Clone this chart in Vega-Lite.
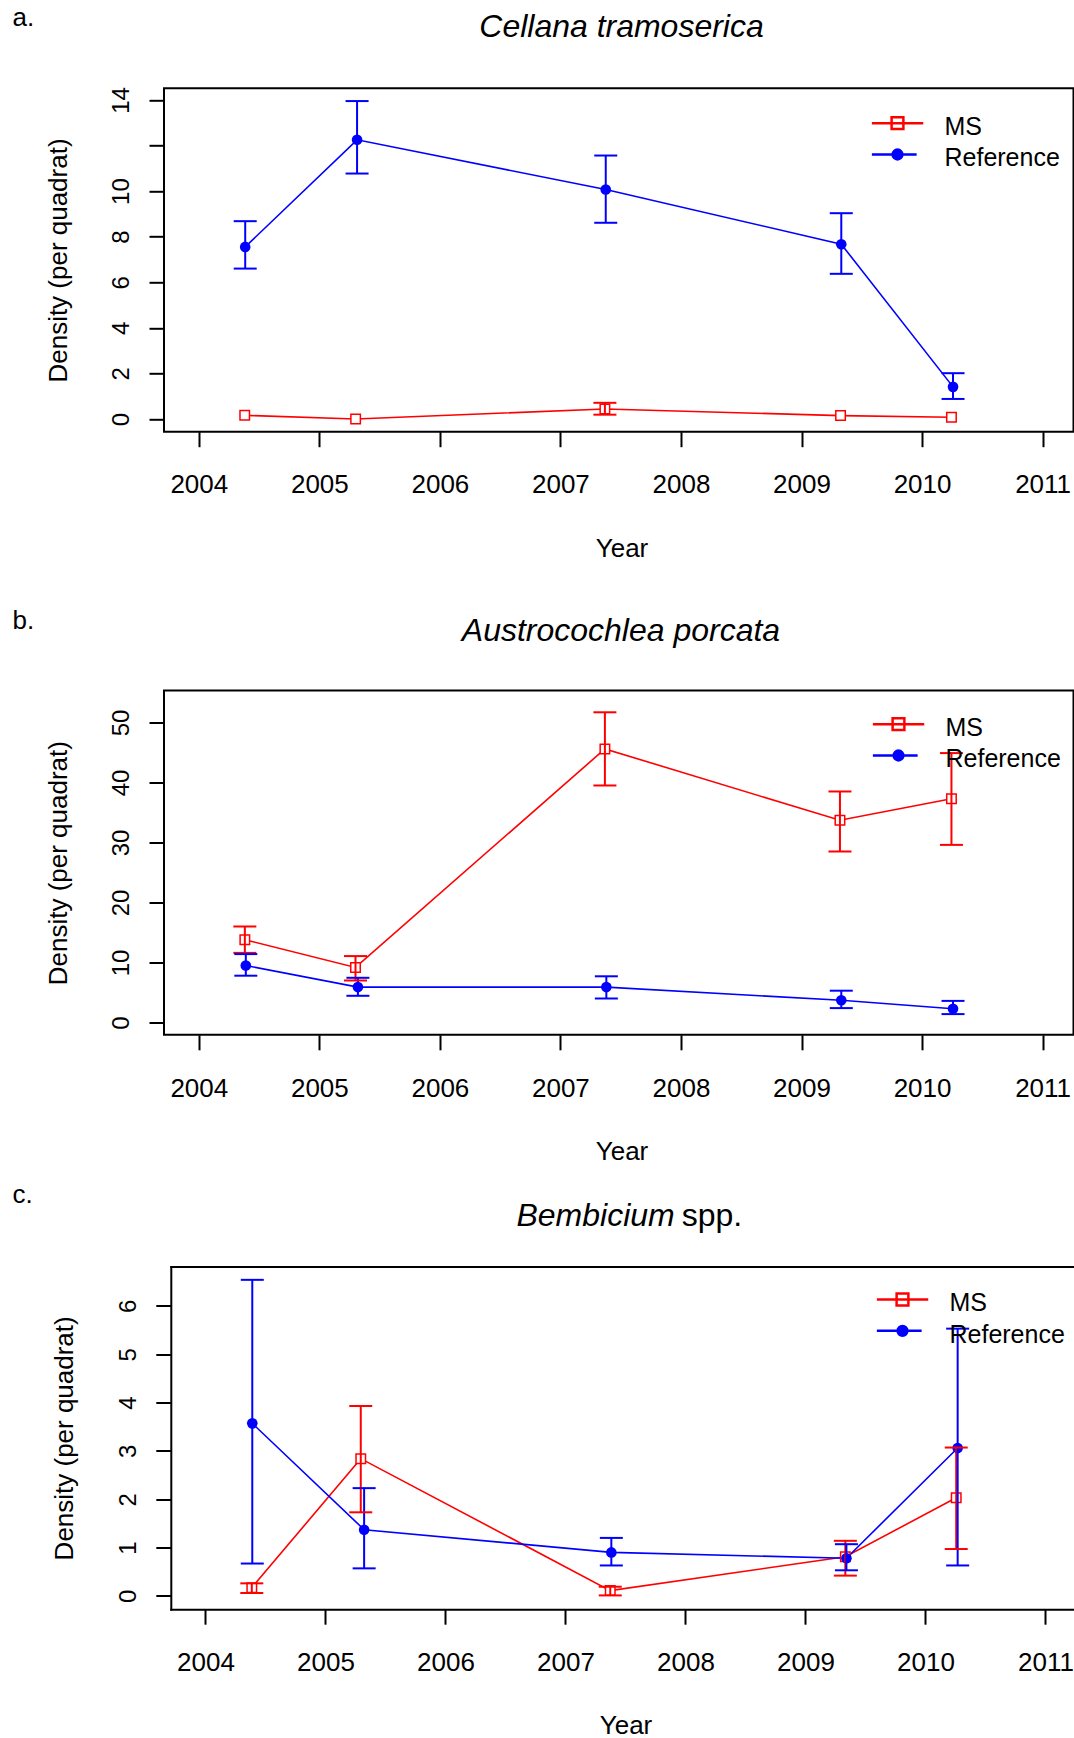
{
  "$schema": "https://vega.github.io/schema/vega-lite/v6.json",
  "background": "white",
  "padding": {"left": 11, "top": 4.3, "right": 0, "bottom": 0},
  "config": {
    "font": "Liberation Sans",
    "view": {"stroke": "black", "strokeWidth": 2},
    "axis": {"grid": false, "labelColor": "black", "titleColor": "black", "tickColor": "black", "domainColor": "black", "tickWidth": 2, "domainWidth": 2, "domainCap": "square", "labelFlush": false, "labelOverlap": false, "labelBound": false, "titleFontWeight": "normal", "labelFont": "Liberation Sans", "titleFont": "Liberation Sans"},
    "title": {"fontWeight": "normal", "color": "black"},
    "legend": {"labelColor": "black", "labelFont": "Liberation Sans"}
  },
  "datasets": {
    "d": [
      {"p": "a", "s": "MS", "year": 2004.381, "y": 0.16},
      {"p": "a", "s": "MS", "year": 2005.301, "y": 0.0},
      {"p": "a", "s": "MS", "year": 2007.369, "y": 0.44, "lo": 0.19, "hi": 0.71},
      {"p": "a", "s": "MS", "year": 2009.324, "y": 0.15},
      {"p": "a", "s": "MS", "year": 2010.244, "y": 0.08},
      {"p": "a", "s": "Reference", "year": 2004.385, "y": 7.55, "lo": 6.6, "hi": 8.68},
      {"p": "a", "s": "Reference", "year": 2005.313, "y": 12.25, "lo": 10.77, "hi": 13.95},
      {"p": "a", "s": "Reference", "year": 2007.376, "y": 10.07, "lo": 8.61, "hi": 11.56},
      {"p": "a", "s": "Reference", "year": 2009.33, "y": 7.67, "lo": 6.37, "hi": 9.03},
      {"p": "a", "s": "Reference", "year": 2010.257, "y": 1.41, "lo": 0.88, "hi": 2.01},
      {"p": "b", "s": "MS", "year": 2004.382, "y": 13.8, "lo": 11.6, "hi": 16.0},
      {"p": "b", "s": "MS", "year": 2005.3, "y": 9.17, "lo": 7.0, "hi": 11.07},
      {"p": "b", "s": "MS", "year": 2007.369, "y": 45.6, "lo": 39.5, "hi": 51.7},
      {"p": "b", "s": "MS", "year": 2009.319, "y": 33.7, "lo": 28.5, "hi": 38.5},
      {"p": "b", "s": "MS", "year": 2010.244, "y": 37.3, "lo": 29.6, "hi": 44.9},
      {"p": "b", "s": "Reference", "year": 2004.39, "y": 9.5, "lo": 7.8, "hi": 11.4},
      {"p": "b", "s": "Reference", "year": 2005.32, "y": 5.9, "lo": 4.45, "hi": 7.45},
      {"p": "b", "s": "Reference", "year": 2007.381, "y": 5.9, "lo": 4.0, "hi": 7.7},
      {"p": "b", "s": "Reference", "year": 2009.33, "y": 3.7, "lo": 2.4, "hi": 5.3},
      {"p": "b", "s": "Reference", "year": 2010.257, "y": 2.3, "lo": 1.4, "hi": 3.6},
      {"p": "c", "s": "MS", "year": 2004.386, "y": 0.17, "lo": 0.06, "hi": 0.26},
      {"p": "c", "s": "MS", "year": 2005.294, "y": 2.84, "lo": 1.73, "hi": 3.93},
      {"p": "c", "s": "MS", "year": 2007.373, "y": 0.11, "lo": 0.01, "hi": 0.19},
      {"p": "c", "s": "MS", "year": 2009.332, "y": 0.81, "lo": 0.42, "hi": 1.14},
      {"p": "c", "s": "MS", "year": 2010.256, "y": 2.03, "lo": 0.97, "hi": 3.07},
      {"p": "c", "s": "Reference", "year": 2004.39, "y": 3.57, "lo": 0.67, "hi": 6.54},
      {"p": "c", "s": "Reference", "year": 2005.322, "y": 1.37, "lo": 0.57, "hi": 2.23},
      {"p": "c", "s": "Reference", "year": 2007.382, "y": 0.9, "lo": 0.63, "hi": 1.2},
      {"p": "c", "s": "Reference", "year": 2009.341, "y": 0.78, "lo": 0.53, "hi": 1.07},
      {"p": "c", "s": "Reference", "year": 2010.268, "y": 3.06, "lo": 0.63, "hi": 5.53}
    ]
  },
  "resolve": {"scale": {"color": "independent"}},
  "spacing": 45.2,
  "vconcat": [
    {
      "width": 909.5, "height": 343.4,
      "title": {"text": "a.", "anchor": "start", "frame": "group", "orient": "top", "offset": 0, "dx": -151.5, "dy": 41.6, "baseline": "alphabetic", "fontSize": 26, "fontWeight": "normal", "color": "black"},
      "data": {"name": "d"},
      "transform": [{"filter": "datum.p == 'a'"}],
      "resolve": {"axis": {"x": "independent", "y": "independent"}},
      "layer": [
        {
          "mark": {"type": "line", "strokeWidth": 1.6},
          "encoding": {
            "x": {"field": "year", "type": "quantitative", "scale": {"domain": [2003.7113, 2011.2565], "nice": false, "zero": false},
              "axis": {"orient": "bottom", "values": [2004, 2005, 2006, 2007, 2008, 2009, 2010, 2011], "format": "d", "domain": false, "tickSize": 15, "labelFontSize": 26, "labelBaseline": "alphabetic", "labelAlign": "center", "labelPadding": 46.3, "title": "Year", "titleFontSize": 26, "titleBaseline": "alphabetic", "titleAlign": "center", "titleX": 457.5, "titleY": 124.5}},
            "y": {"field": "y", "type": "quantitative", "scale": {"domain": [-0.557, 14.51], "nice": false, "zero": false},
              "axis": {"orient": "left", "values": [0, 2, 4, 6, 8, 10, 12, 14], "format": "d", "labelExpr": "datum.value == 12 ? '' : datum.label", "domain": false, "tickSize": 15, "labelFontSize": 24, "labelAngle": 270, "labelAlign": "center", "labelBaseline": "alphabetic", "labelPadding": 20.5, "title": "Density (per quadrat)", "titleFontSize": 26, "titleAngle": 270, "titleAlign": "center", "titleBaseline": "alphabetic", "titleX": -98, "titleY": 171.7}},
            "color": {"field": "s", "type": "nominal", "scale": {"domain": ["MS", "Reference"], "range": ["#ff0000", "#0000ff"]},
              "legend": {"orient": "none", "legendX": 707.5, "legendY": 22.4, "title": null, "padding": 0, "direction": "vertical", "rowPadding": 1.3, "clipHeight": 25, "symbolSize": 2401, "symbolStrokeWidth": 2.5, "labelFontSize": 25, "labelOffset": 21, "labelBaseline": "alphabetic",
                "encode": {
                  "symbols": {"update": {
                    "shape": {"signal": "datum.value === 'MS' ? 'M-1,0H1M-0.24,-0.24H0.24M0.24,-0.24V0.24M0.24,0.24H-0.24M-0.24,0.24V-0.24' : 'M-1,0H-0.29M0.24,0H0.73M0.2,0A0.2,0.2,0,1,1,-0.2,0A0.2,0.2,0,1,1,0.2,0Z'"},
                    "strokeWidth": {"value": 2.5},
                    "strokeCap": {"value": "square"},
                    "opacity": {"value": 1}
                  }},
                  "labels": {"update": {"dy": {"value": 11.8}}}
                }}}
          }
        },
        {
          "transform": [{"filter": "datum.s == 'MS'"}],
          "mark": {"type": "point", "shape": "square", "filled": false, "fill": "white", "size": 90, "strokeWidth": 1.5, "opacity": 1},
          "encoding": {
            "x": {"field": "year", "type": "quantitative", "scale": {"domain": [2003.7113, 2011.2565], "nice": false, "zero": false},
              "axis": {"orient": "top", "domain": false, "ticks": false, "labels": false, "title": "Cellana tramoserica", "titleFontSize": 32, "titleFontStyle": "italic", "titleBaseline": "alphabetic", "titleAlign": "center", "titleX": 457, "titleY": -51.6, "minExtent": 0, "maxExtent": 0}},
            "y": {"field": "y", "type": "quantitative", "scale": {"domain": [-0.557, 14.51], "nice": false, "zero": false}, "axis": null},
            "color": {"field": "s", "type": "nominal", "scale": {"domain": ["MS", "Reference"], "range": ["#ff0000", "#0000ff"]}}
          }
        },
        {
          "transform": [{"filter": "datum.s == 'Reference'"}],
          "mark": {"type": "point", "shape": "circle", "filled": true, "size": 113, "opacity": 1},
          "encoding": {
            "x": {"field": "year", "type": "quantitative", "scale": {"domain": [2003.7113, 2011.2565], "nice": false, "zero": false}, "axis": null},
            "y": {"field": "y", "type": "quantitative", "scale": {"domain": [-0.557, 14.51], "nice": false, "zero": false}, "axis": null},
            "color": {"field": "s", "type": "nominal", "scale": {"domain": ["MS", "Reference"], "range": ["#ff0000", "#0000ff"]}}
          }
        },
        {
          "transform": [{"filter": "isValid(datum.lo)"}],
          "mark": {"type": "rule", "strokeWidth": 2},
          "encoding": {
            "x": {"field": "year", "type": "quantitative", "scale": {"domain": [2003.7113, 2011.2565], "nice": false, "zero": false}, "axis": null},
            "y": {"field": "lo", "type": "quantitative", "scale": {"domain": [-0.557, 14.51], "nice": false, "zero": false}, "axis": null},
            "y2": {"field": "hi"},
            "color": {"field": "s", "type": "nominal", "scale": {"domain": ["MS", "Reference"], "range": ["#ff0000", "#0000ff"]}}
          }
        },
        {
          "transform": [{"filter": "isValid(datum.lo)"}],
          "mark": {"type": "tick", "orient": "horizontal", "size": 23, "thickness": 2, "opacity": 1},
          "encoding": {
            "x": {"field": "year", "type": "quantitative", "scale": {"domain": [2003.7113, 2011.2565], "nice": false, "zero": false}, "axis": null},
            "y": {"field": "lo", "type": "quantitative", "scale": {"domain": [-0.557, 14.51], "nice": false, "zero": false}, "axis": null},
            "color": {"field": "s", "type": "nominal", "scale": {"domain": ["MS", "Reference"], "range": ["#ff0000", "#0000ff"]}}
          }
        },
        {
          "transform": [{"filter": "isValid(datum.hi)"}],
          "mark": {"type": "tick", "orient": "horizontal", "size": 23, "thickness": 2, "opacity": 1},
          "encoding": {
            "x": {"field": "year", "type": "quantitative", "scale": {"domain": [2003.7113, 2011.2565], "nice": false, "zero": false}, "axis": null},
            "y": {"field": "hi", "type": "quantitative", "scale": {"domain": [-0.557, 14.51], "nice": false, "zero": false}, "axis": null},
            "color": {"field": "s", "type": "nominal", "scale": {"domain": ["MS", "Reference"], "range": ["#ff0000", "#0000ff"]}}
          }
        }
      ]
    },
    {
      "resolve": {"scale": {"color": "independent"}},
      "spacing": 17,
      "vconcat": [
        {
          "width": 909.5, "height": 344.3,
          "title": {"text": "b.", "anchor": "start", "frame": "group", "orient": "top", "offset": 0, "dx": -151.5, "dy": 41.3, "baseline": "alphabetic", "fontSize": 26, "fontWeight": "normal", "color": "black"},
          "data": {"name": "d"},
          "transform": [{"filter": "datum.p == 'b'"}],
          "resolve": {"axis": {"x": "independent", "y": "independent"}},
          "layer": [
            {
              "mark": {"type": "line", "strokeWidth": 1.6},
              "encoding": {
                "x": {"field": "year", "type": "quantitative", "scale": {"domain": [2003.7113, 2011.2565], "nice": false, "zero": false},
                  "axis": {"orient": "bottom", "values": [2004, 2005, 2006, 2007, 2008, 2009, 2010, 2011], "format": "d", "domain": false, "tickSize": 15, "labelFontSize": 26, "labelBaseline": "alphabetic", "labelAlign": "center", "labelPadding": 46.3, "title": "Year", "titleFontSize": 26, "titleBaseline": "alphabetic", "titleAlign": "center", "titleX": 457.5, "titleY": 124.6}},
                "y": {"field": "y", "type": "quantitative", "scale": {"domain": [-2.05, 55.33], "nice": false, "zero": false},
                  "axis": {"orient": "left", "values": [0, 10, 20, 30, 40, 50], "format": "d", "domain": false, "tickSize": 15, "labelFontSize": 24, "labelAngle": 270, "labelAlign": "center", "labelBaseline": "alphabetic", "labelPadding": 20.5, "title": "Density (per quadrat)", "titleFontSize": 26, "titleAngle": 270, "titleAlign": "center", "titleBaseline": "alphabetic", "titleX": -98, "titleY": 172.15}},
                "color": {"field": "s", "type": "nominal", "scale": {"domain": ["MS", "Reference"], "range": ["#ff0000", "#0000ff"]},
                  "legend": {"orient": "none", "legendX": 708.5, "legendY": 21.2, "title": null, "padding": 0, "direction": "vertical", "rowPadding": 1.3, "clipHeight": 25, "symbolSize": 2401, "symbolStrokeWidth": 2.5, "labelFontSize": 25, "labelOffset": 21, "labelBaseline": "alphabetic",
                    "encode": {
                      "symbols": {"update": {
                        "shape": {"signal": "datum.value === 'MS' ? 'M-1,0H1M-0.24,-0.24H0.24M0.24,-0.24V0.24M0.24,0.24H-0.24M-0.24,0.24V-0.24' : 'M-1,0H-0.29M0.24,0H0.73M0.2,0A0.2,0.2,0,1,1,-0.2,0A0.2,0.2,0,1,1,0.2,0Z'"},
                        "strokeWidth": {"value": 2.5},
                        "strokeCap": {"value": "square"},
                        "opacity": {"value": 1}
                      }},
                      "labels": {"update": {"dy": {"value": 11.8}}}
                    }}}
              }
            },
            {
              "transform": [{"filter": "datum.s == 'MS'"}],
              "mark": {"type": "point", "shape": "square", "filled": false, "fill": "white", "size": 90, "strokeWidth": 1.5, "opacity": 1},
              "encoding": {
                "x": {"field": "year", "type": "quantitative", "scale": {"domain": [2003.7113, 2011.2565], "nice": false, "zero": false},
                  "axis": {"orient": "top", "domain": false, "ticks": false, "labels": false, "title": "Austrocochlea porcata", "titleFontSize": 32, "titleFontStyle": "italic", "titleBaseline": "alphabetic", "titleAlign": "center", "titleX": 456.5, "titleY": -50.3, "minExtent": 0, "maxExtent": 0}},
                "y": {"field": "y", "type": "quantitative", "scale": {"domain": [-2.05, 55.33], "nice": false, "zero": false}, "axis": null},
                "color": {"field": "s", "type": "nominal", "scale": {"domain": ["MS", "Reference"], "range": ["#ff0000", "#0000ff"]}}
              }
            },
            {
              "transform": [{"filter": "datum.s == 'Reference'"}],
              "mark": {"type": "point", "shape": "circle", "filled": true, "size": 113, "opacity": 1},
              "encoding": {
                "x": {"field": "year", "type": "quantitative", "scale": {"domain": [2003.7113, 2011.2565], "nice": false, "zero": false}, "axis": null},
                "y": {"field": "y", "type": "quantitative", "scale": {"domain": [-2.05, 55.33], "nice": false, "zero": false}, "axis": null},
                "color": {"field": "s", "type": "nominal", "scale": {"domain": ["MS", "Reference"], "range": ["#ff0000", "#0000ff"]}}
              }
            },
            {
              "transform": [{"filter": "isValid(datum.lo)"}],
              "mark": {"type": "rule", "strokeWidth": 2},
              "encoding": {
                "x": {"field": "year", "type": "quantitative", "scale": {"domain": [2003.7113, 2011.2565], "nice": false, "zero": false}, "axis": null},
                "y": {"field": "lo", "type": "quantitative", "scale": {"domain": [-2.05, 55.33], "nice": false, "zero": false}, "axis": null},
                "y2": {"field": "hi"},
                "color": {"field": "s", "type": "nominal", "scale": {"domain": ["MS", "Reference"], "range": ["#ff0000", "#0000ff"]}}
              }
            },
            {
              "transform": [{"filter": "isValid(datum.lo)"}],
              "mark": {"type": "tick", "orient": "horizontal", "size": 23, "thickness": 2, "opacity": 1},
              "encoding": {
                "x": {"field": "year", "type": "quantitative", "scale": {"domain": [2003.7113, 2011.2565], "nice": false, "zero": false}, "axis": null},
                "y": {"field": "lo", "type": "quantitative", "scale": {"domain": [-2.05, 55.33], "nice": false, "zero": false}, "axis": null},
                "color": {"field": "s", "type": "nominal", "scale": {"domain": ["MS", "Reference"], "range": ["#ff0000", "#0000ff"]}}
              }
            },
            {
              "transform": [{"filter": "isValid(datum.hi)"}],
              "mark": {"type": "tick", "orient": "horizontal", "size": 23, "thickness": 2, "opacity": 1},
              "encoding": {
                "x": {"field": "year", "type": "quantitative", "scale": {"domain": [2003.7113, 2011.2565], "nice": false, "zero": false}, "axis": null},
                "y": {"field": "hi", "type": "quantitative", "scale": {"domain": [-2.05, 55.33], "nice": false, "zero": false}, "axis": null},
                "color": {"field": "s", "type": "nominal", "scale": {"domain": ["MS", "Reference"], "range": ["#ff0000", "#0000ff"]}}
              }
            }
          ]
        },
        {
          "width": 911.5, "height": 342.7,
          "view": {"stroke": null},
          "title": {"text": "c.", "anchor": "start", "frame": "group", "orient": "top", "offset": 0, "dx": -151.5, "dy": 30, "baseline": "alphabetic", "fontSize": 26, "fontWeight": "normal", "color": "black"},
          "data": {"name": "d"},
          "transform": [{"filter": "datum.p == 'c'"}],
          "resolve": {"axis": {"x": "independent", "y": "independent"}},
          "layer": [
            {
              "mark": {"type": "line", "strokeWidth": 1.6},
              "encoding": {
                "x": {"field": "year", "type": "quantitative", "scale": {"domain": [2003.711, 2011.25], "range": [6.8, 911.5], "nice": false, "zero": false},
                  "axis": {"orient": "bottom", "values": [2004, 2005, 2006, 2007, 2008, 2009, 2010, 2011], "format": "d", "domain": true, "tickSize": 15, "labelFontSize": 26, "labelBaseline": "alphabetic", "labelAlign": "center", "labelPadding": 46.3, "title": "Year", "titleFontSize": 26, "titleBaseline": "alphabetic", "titleAlign": "center", "titleX": 461.5, "titleY": 124}},
                "y": {"field": "y", "type": "quantitative", "scale": {"domain": [-0.275, 6.816], "nice": false, "zero": false},
                  "axis": {"orient": "left", "offset": -6.8, "values": [0, 1, 2, 3, 4, 5, 6], "format": "d", "domain": true, "tickSize": 15, "labelFontSize": 24, "labelAngle": 270, "labelAlign": "center", "labelBaseline": "alphabetic", "labelPadding": 20.5, "title": "Density (per quadrat)", "titleFontSize": 26, "titleAngle": 270, "titleAlign": "center", "titleBaseline": "alphabetic", "titleX": -98, "titleY": 171.35}},
                "color": {"field": "s", "type": "nominal", "scale": {"domain": ["MS", "Reference"], "range": ["#ff0000", "#0000ff"]},
                  "legend": {"orient": "none", "legendX": 712.5, "legendY": 20.5, "title": null, "padding": 0, "direction": "vertical", "rowPadding": 1.3, "clipHeight": 25, "symbolSize": 2401, "symbolStrokeWidth": 2.5, "labelFontSize": 25, "labelOffset": 21, "labelBaseline": "alphabetic",
                    "encode": {
                      "symbols": {"update": {
                        "shape": {"signal": "datum.value === 'MS' ? 'M-1,0H1M-0.24,-0.24H0.24M0.24,-0.24V0.24M0.24,0.24H-0.24M-0.24,0.24V-0.24' : 'M-1,0H-0.29M0.24,0H0.73M0.2,0A0.2,0.2,0,1,1,-0.2,0A0.2,0.2,0,1,1,0.2,0Z'"},
                        "strokeWidth": {"value": 2.5},
                        "strokeCap": {"value": "square"},
                        "opacity": {"value": 1}
                      }},
                      "labels": {"update": {"dy": {"value": 11.8}}}
                    }}}
              }
            },
            {
              "transform": [{"filter": "datum.s == 'MS'"}],
              "mark": {"type": "point", "shape": "square", "filled": false, "fill": "white", "size": 90, "strokeWidth": 1.5, "opacity": 1},
              "encoding": {
                "x": {"field": "year", "type": "quantitative", "scale": {"domain": [2003.711, 2011.25], "range": [6.8, 911.5], "nice": false, "zero": false},
                  "axis": {"orient": "top", "domain": true, "ticks": false, "labels": false, "title": "Bembicium", "titleFontSize": 32, "titleFontStyle": "italic", "titleBaseline": "alphabetic", "titleAlign": "left", "titleX": 352, "titleY": -41, "minExtent": 0, "maxExtent": 0}},
                "y": {"field": "y", "type": "quantitative", "scale": {"domain": [-0.275, 6.816], "nice": false, "zero": false},
                  "axis": {"orient": "right", "domain": false, "ticks": false, "labels": false, "title": "spp.", "titleFontSize": 32, "titleFontStyle": "normal", "titleAngle": 0, "titleAlign": "left", "titleBaseline": "alphabetic", "titleX": -394.3, "titleY": -41, "minExtent": 0, "maxExtent": 0}},
                "color": {"field": "s", "type": "nominal", "scale": {"domain": ["MS", "Reference"], "range": ["#ff0000", "#0000ff"]}}
              }
            },
            {
              "transform": [{"filter": "datum.s == 'Reference'"}],
              "mark": {"type": "point", "shape": "circle", "filled": true, "size": 113, "opacity": 1},
              "encoding": {
                "x": {"field": "year", "type": "quantitative", "scale": {"domain": [2003.711, 2011.25], "range": [6.8, 911.5], "nice": false, "zero": false}, "axis": null},
                "y": {"field": "y", "type": "quantitative", "scale": {"domain": [-0.275, 6.816], "nice": false, "zero": false}, "axis": null},
                "color": {"field": "s", "type": "nominal", "scale": {"domain": ["MS", "Reference"], "range": ["#ff0000", "#0000ff"]}}
              }
            },
            {
              "transform": [{"filter": "isValid(datum.lo)"}],
              "mark": {"type": "rule", "strokeWidth": 2},
              "encoding": {
                "x": {"field": "year", "type": "quantitative", "scale": {"domain": [2003.711, 2011.25], "range": [6.8, 911.5], "nice": false, "zero": false}, "axis": null},
                "y": {"field": "lo", "type": "quantitative", "scale": {"domain": [-0.275, 6.816], "nice": false, "zero": false}, "axis": null},
                "y2": {"field": "hi"},
                "color": {"field": "s", "type": "nominal", "scale": {"domain": ["MS", "Reference"], "range": ["#ff0000", "#0000ff"]}}
              }
            },
            {
              "transform": [{"filter": "isValid(datum.lo)"}],
              "mark": {"type": "tick", "orient": "horizontal", "size": 23, "thickness": 2, "opacity": 1},
              "encoding": {
                "x": {"field": "year", "type": "quantitative", "scale": {"domain": [2003.711, 2011.25], "range": [6.8, 911.5], "nice": false, "zero": false}, "axis": null},
                "y": {"field": "lo", "type": "quantitative", "scale": {"domain": [-0.275, 6.816], "nice": false, "zero": false}, "axis": null},
                "color": {"field": "s", "type": "nominal", "scale": {"domain": ["MS", "Reference"], "range": ["#ff0000", "#0000ff"]}}
              }
            },
            {
              "transform": [{"filter": "isValid(datum.hi)"}],
              "mark": {"type": "tick", "orient": "horizontal", "size": 23, "thickness": 2, "opacity": 1},
              "encoding": {
                "x": {"field": "year", "type": "quantitative", "scale": {"domain": [2003.711, 2011.25], "range": [6.8, 911.5], "nice": false, "zero": false}, "axis": null},
                "y": {"field": "hi", "type": "quantitative", "scale": {"domain": [-0.275, 6.816], "nice": false, "zero": false}, "axis": null},
                "color": {"field": "s", "type": "nominal", "scale": {"domain": ["MS", "Reference"], "range": ["#ff0000", "#0000ff"]}}
              }
            }
          ]
        }
      ]
    }
  ]
}
